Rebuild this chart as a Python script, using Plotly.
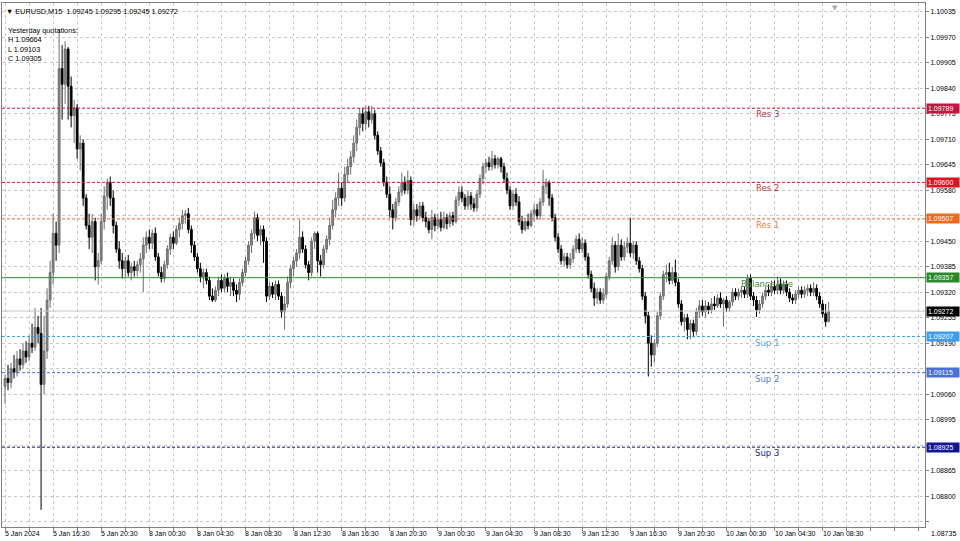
import plotly.graph_objects as go

# ---------------- data (prices in points, 1 point = 0.00001) ----------------
open_pts = [
    109080,109100,109090,109125,109115,109150,109135,109170,109155,109190,
    109180,109230,109215,109085,109170,109300,109370,109470,109440,109890,
    109850,109940,109845,109770,109790,109685,109700,109560,109490,109460,
    109500,109385,109400,109500,109565,109600,109560,109490,109430,109400,
    109380,109400,109370,109385,109375,109390,109405,109440,109460,109445,
    109470,109410,109370,109355,109390,109430,109460,109445,109480,109495,
    109515,109520,109480,109440,109410,109380,109360,109370,109350,109310,
    109300,109325,109350,109330,109355,109335,109345,109325,109315,109345,
    109370,109400,109440,109470,109510,109465,109480,109450,109310,109335,
    109315,109340,109310,109270,109290,109345,109380,109400,109420,109460,
    109430,109390,109370,109450,109470,109400,109390,109430,109455,109490,
    109530,109560,109585,109560,109620,109640,109665,109700,109740,109775,
    109750,109780,109760,109775,109720,109680,109650,109600,109570,109530,
    109510,109550,109575,109600,109580,109605,109505,109530,109515,109540,
    109510,109500,109480,109510,109490,109505,109485,109510,109495,109515,
    109500,109555,109575,109560,109540,109565,109545,109535,109570,109610,
    109640,109650,109640,109660,109645,109660,109640,109610,109580,109540,
    109570,109550,109500,109480,109500,109490,109520,109530,109515,109550,
    109590,109600,109560,109510,109460,109430,109400,109410,109390,109405,
    109430,109455,109430,109445,109410,109365,109330,109305,109320,109300,
    109315,109360,109400,109440,109385,109440,109410,109435,109445,109420,
    109440,109400,109380,109310,109260,109190,109160,109190,109260,109310,
    109365,109370,109350,109370,109345,109290,109245,109255,109225,109240,
    109220,109270,109285,109270,109285,109275,109290,109285,109305,109290,
    109300,109280,109295,109320,109310,109320,109325,109315,109355,109310,
    109300,109275,109290,109310,109325,109320,109335,109325,109340,109325,
    109340,109320,109305,109300,109315,109325,109315,109325,109330,109320,
    109330,109310,109290,109265,109245,
]
high_pts = [
    109110,109135,109140,109160,109170,109175,109190,109195,109210,109240,
    109280,109260,109280,109260,109330,109400,109520,109500,109990,109950,
    109960,109945,109870,109810,109800,109720,109710,109570,109520,109520,
    109510,109420,109520,109590,109610,109615,109580,109500,109450,109420,
    109410,109415,109395,109400,109400,109420,109460,109475,109480,109480,
    109485,109420,109385,109400,109440,109470,109475,109490,109510,109530,
    109530,109535,109490,109450,109420,109395,109380,109380,109360,109330,
    109335,109360,109365,109365,109370,109360,109355,109340,109355,109380,
    109410,109450,109480,109525,109520,109490,109490,109460,109345,109345,
    109350,109350,109320,109310,109360,109390,109410,109430,109505,109475,
    109440,109400,109460,109475,109475,109415,109440,109465,109510,109555,
    109575,109625,109600,109640,109660,109680,109720,109760,109790,109790,
    109795,109795,109795,109785,109730,109690,109660,109615,109590,109545,
    109560,109590,109625,109615,109630,109615,109545,109545,109550,109550,
    109525,109510,109530,109520,109520,109525,109525,109520,109525,109525,
    109565,109590,109590,109570,109580,109575,109560,109580,109620,109650,
    109660,109665,109680,109670,109665,109665,109650,109625,109590,109580,
    109585,109565,109515,109510,109520,109530,109545,109545,109560,109632,
    109610,109605,109570,109520,109470,109440,109420,109420,109420,109440,
    109465,109470,109460,109455,109420,109375,109345,109330,109330,109330,
    109370,109410,109460,109450,109470,109455,109450,109460,109510,109450,
    109450,109410,109390,109320,109270,109210,109200,109270,109320,109375,
    109390,109395,109385,109403,109355,109300,109265,109265,109250,109250,
    109280,109300,109300,109300,109295,109305,109310,109315,109320,109305,
    109310,109300,109330,109330,109330,109335,109335,109365,109365,109320,
    109310,109300,109320,109335,109340,109350,109350,109360,109355,109350,
    109350,109330,109315,109325,109335,109335,109335,109340,109340,109345,
    109340,109320,109300,109290,109295,
]
low_pts = [
    109035,109070,109075,109100,109105,109120,109125,109140,109145,109165,
    109170,109190,108765,109060,109150,109280,109340,109400,109420,109760,
    109800,109760,109740,109700,109660,109630,109540,109480,109430,109420,
    109350,109340,109390,109480,109530,109540,109470,109420,109380,109355,
    109355,109360,109350,109360,109360,109370,109320,109420,109430,109430,
    109400,109360,109345,109345,109380,109415,109430,109440,109460,109480,
    109495,109470,109420,109400,109370,109345,109330,109340,109300,109295,
    109295,109310,109320,109320,109320,109310,109310,109295,109300,109335,
    109360,109390,109420,109455,109450,109440,109395,109295,109300,109305,
    109300,109300,109255,109225,109280,109330,109360,109385,109405,109420,
    109380,109350,109360,109430,109370,109360,109380,109420,109440,109480,
    109510,109540,109540,109550,109600,109620,109650,109680,109720,109730,
    109735,109740,109750,109710,109670,109640,109590,109560,109510,109480,
    109500,109540,109565,109570,109570,109490,109490,109500,109505,109500,
    109485,109470,109455,109475,109480,109475,109480,109480,109485,109490,
    109495,109540,109550,109530,109530,109530,109525,109525,109560,109595,
    109625,109630,109630,109635,109635,109625,109600,109570,109530,109530,
    109540,109490,109470,109475,109480,109485,109500,109505,109505,109540,
    109570,109540,109500,109450,109420,109390,109385,109380,109380,109395,
    109420,109420,109420,109400,109355,109320,109285,109290,109290,109290,
    109305,109350,109390,109370,109375,109400,109400,109420,109410,109405,
    109390,109370,109300,109240,109105,109130,109140,109180,109250,109300,
    109345,109340,109340,109335,109280,109235,109220,109200,109200,109205,
    109210,109255,109260,109255,109265,109265,109275,109280,109280,109232,
    109270,109270,109285,109300,109300,109305,109305,109305,109300,109285,
    109257,109265,109280,109300,109310,109310,109315,109315,109315,109315,
    109310,109295,109290,109290,109305,109305,109305,109310,109310,109310,
    109300,109280,109255,109232,109245,
]
close_pts = [
    109100,109090,109125,109115,109150,109135,109170,109155,109190,109180,
    109230,109215,109085,109170,109300,109370,109470,109440,109890,109850,
    109940,109845,109770,109790,109685,109700,109560,109490,109460,109500,
    109385,109400,109500,109565,109600,109560,109490,109430,109400,109380,
    109400,109370,109385,109375,109390,109405,109440,109460,109445,109470,
    109410,109370,109355,109390,109430,109460,109445,109480,109495,109515,
    109520,109480,109440,109410,109380,109360,109370,109350,109310,109300,
    109325,109350,109330,109355,109335,109345,109325,109315,109345,109370,
    109400,109440,109470,109510,109465,109480,109450,109310,109335,109315,
    109340,109310,109270,109290,109345,109380,109400,109420,109460,109430,
    109390,109370,109450,109470,109400,109390,109430,109455,109490,109530,
    109560,109585,109560,109620,109640,109665,109700,109740,109775,109750,
    109780,109760,109775,109720,109680,109650,109600,109570,109530,109510,
    109550,109575,109600,109580,109605,109505,109530,109515,109540,109510,
    109500,109480,109510,109490,109505,109485,109510,109495,109515,109500,
    109555,109575,109560,109540,109565,109545,109535,109570,109610,109640,
    109650,109640,109660,109645,109660,109640,109610,109580,109540,109570,
    109550,109500,109480,109500,109490,109520,109530,109515,109550,109590,
    109600,109560,109510,109460,109430,109400,109410,109390,109405,109430,
    109455,109430,109445,109410,109365,109330,109305,109320,109300,109315,
    109360,109400,109440,109385,109440,109410,109435,109445,109420,109440,
    109400,109380,109310,109260,109190,109160,109190,109260,109310,109365,
    109370,109350,109370,109345,109290,109245,109255,109225,109240,109220,
    109270,109285,109270,109285,109275,109290,109285,109305,109290,109300,
    109280,109295,109320,109310,109320,109325,109315,109355,109310,109300,
    109275,109290,109310,109325,109320,109335,109325,109340,109325,109340,
    109320,109305,109300,109315,109325,109315,109325,109330,109320,109330,
    109310,109290,109265,109245,109272,
]

x_labels = ["5 Jan 2024", "5 Jan 16:30", "5 Jan 20:30", "8 Jan 00:30", "8 Jan 04:30",
            "8 Jan 08:30", "8 Jan 12:30", "8 Jan 16:30", "8 Jan 20:30", "9 Jan 00:30",
            "9 Jan 04:30", "9 Jan 08:30", "9 Jan 12:30", "9 Jan 16:30", "9 Jan 20:30",
            "10 Jan 00:30", "10 Jan 04:30", "10 Jan 08:30"]
bars_per_label = 16      # one label every 4 hours of M15 bars
bars_per_grid = 8        # one vertical grid line every 2 hours

price_ticks = [1.10035, 1.09970, 1.09905, 1.09840, 1.09775, 1.09710, 1.09645,
               1.09580, 1.09515, 1.09450, 1.09385, 1.09320, 1.09255, 1.09190,
               1.09125, 1.09060, 1.08995, 1.08930, 1.08865, 1.08800, 1.08735]
# tick labels that sit under a level's price box in the terminal (not visible)
hidden_ticks = [1.09515, 1.09125, 1.08930, 1.08735]

level_names = ["Res 3", "Res 2", "Res 1", "Balance line", "Sup 1", "Sup 2", "Sup 3"]
level_values = [1.09789, 1.09600, 1.09507, 1.09357, 1.09207, 1.09115, 1.08925]
level_colors = ["#c8143c", "#e0141e", "#f26a1e", "#2a8a2a", "#3d9ef0", "#4a6fd8", "#12129a"]
level_text_colors = ["#b8304c", "#c83838", "#e8804a", "#3a8a3a", "#5aa6ea", "#5a7cc8", "#1a1a8c"]
current_price = 1.09272

yesterday_labels = ["H", "L", "C"]
yesterday_values = [1.09664, 1.09103, 1.09305]

symbol = "EURUSD,M15"

# ---------------- figure ----------------
n = len(close_pts)
bar_idx = list(range(n))
opens = [v / 1e5 for v in open_pts]
highs = [v / 1e5 for v in high_pts]
lows = [v / 1e5 for v in low_pts]
closes = [v / 1e5 for v in close_pts]

FONT = "Liberation Sans"

fig = go.Figure()
fig.add_trace(go.Candlestick(
    x=bar_idx, open=opens, high=highs, low=lows, close=closes,
    increasing=dict(line=dict(color="#6e6e6e", width=1), fillcolor="#858585"),
    decreasing=dict(line=dict(color="#000000", width=1), fillcolor="#000000"),
    hoverinfo="skip", showlegend=False,
))

shapes = []
annotations = []

# current price line
shapes.append(dict(type="line", xref="paper", x0=0, x1=1, yref="y",
                   y0=current_price, y1=current_price,
                   line=dict(color="#c4c4c4", width=1)))

label_bar = 253.5
for name, val, col, tcol in zip(level_names, level_values, level_colors, level_text_colors):
    dash = "solid" if name == "Balance line" else "3px,2px"
    shapes.append(dict(type="line", xref="paper", x0=0, x1=1, yref="y", y0=val, y1=val,
                       line=dict(color=col, width=1, dash=dash)))
    annotations.append(dict(x=label_bar, y=val, xref="x", yref="y", text=name,
                            showarrow=False, xanchor="center", yanchor="top", yshift=1,
                            font=dict(family="DejaVu Sans", size=8.5, color=tcol)))
    annotations.append(dict(x=1, y=val, xref="paper", yref="y", text=f"{val:.5f}",
                            showarrow=False, xanchor="left", yanchor="middle", xshift=1,
                            bgcolor=col, borderpad=1, width=30, align="left",
                            font=dict(family=FONT, size=7, color="white")))

annotations.append(dict(x=1, y=current_price, xref="paper", yref="y", text=f"{current_price:.5f}",
                        showarrow=False, xanchor="left", yanchor="middle", xshift=1,
                        bgcolor="#000000", borderpad=1, width=30, align="left",
                        font=dict(family=FONT, size=7, color="white")))

# bottom price label (drawn at window bottom like the terminal)
annotations.append(dict(x=1, y=0, xref="paper", yref="paper", text=f"{price_ticks[-1]:.5f}",
                        showarrow=False, xanchor="left", yanchor="middle", xshift=4, yshift=-6,
                        font=dict(family=FONT, size=7, color="black")))

# time labels
for k, lab in enumerate(x_labels):
    annotations.append(dict(x=k * bars_per_label, y=0, xref="x", yref="paper", text=lab,
                            showarrow=False, xanchor="left", yanchor="top", xshift=-2, yshift=-1,
                            font=dict(family=FONT, size=7, color="black")))

# header
header = f"▼ {symbol}  {opens[-1]:.5f} {highs[-1]:.5f} {lows[-1]:.5f} {closes[-1]:.5f}"
annotations.append(dict(x=0, y=1, xref="paper", yref="paper", text=header, showarrow=False,
                        xanchor="left", yanchor="top", xshift=2, yshift=-2,
                        font=dict(family=FONT, size=7.3, color="black")))
info = "Yesterday quotations:<br>" + "<br>".join(
    f"{l} {v:.5f}" for l, v in zip(yesterday_labels, yesterday_values))
annotations.append(dict(x=0, y=1, xref="paper", yref="paper", text=info, showarrow=False,
                        xanchor="left", yanchor="top", align="left", xshift=4, yshift=-21,
                        font=dict(family=FONT, size=7.3, color="black")))

# chart shift marker
annotations.append(dict(x=n + 1, y=1, xref="x", yref="paper", text="▼", showarrow=False,
                        xanchor="center", yanchor="top", yshift=1,
                        font=dict(family="DejaVu Sans", size=7, color="#a8a8a8")))

grid_vals = list(range(0, 305, bars_per_grid))

fig.update_layout(
    width=960, height=541,
    margin=dict(l=2, r=35, t=3, b=14),
    paper_bgcolor="white", plot_bgcolor="white",
    shapes=shapes, annotations=annotations,
    showlegend=False,
    boxgap=0.15,
    xaxis=dict(range=[-1.0, 306.05], tickvals=grid_vals, showticklabels=False,
               ticks="outside", ticklen=3, tickcolor="#808080",
               showgrid=True, gridcolor="#c8c8c8", griddash="3px,3px", gridwidth=1,
               showline=True, mirror=True, linecolor="#808080", linewidth=1,
               zeroline=False, rangeslider=dict(visible=False), fixedrange=True),
    yaxis=dict(range=[1.087215, 1.100572], side="right", tickvals=price_ticks,
               ticktext=["" if v in hidden_ticks else f"{v:.5f}" for v in price_ticks],
               ticks="outside", ticklen=3, tickcolor="#808080",
               tickfont=dict(family=FONT, size=7, color="black"),
               showgrid=True, gridcolor="#c8c8c8", griddash="3px,3px", gridwidth=1,
               showline=True, mirror=True, linecolor="#808080", linewidth=1,
               zeroline=False, fixedrange=True),
)

fig.write_html("out.html", config={"displayModeBar": False},
               post_script="document.body.style.margin='0';document.body.style.overflow='hidden';")
